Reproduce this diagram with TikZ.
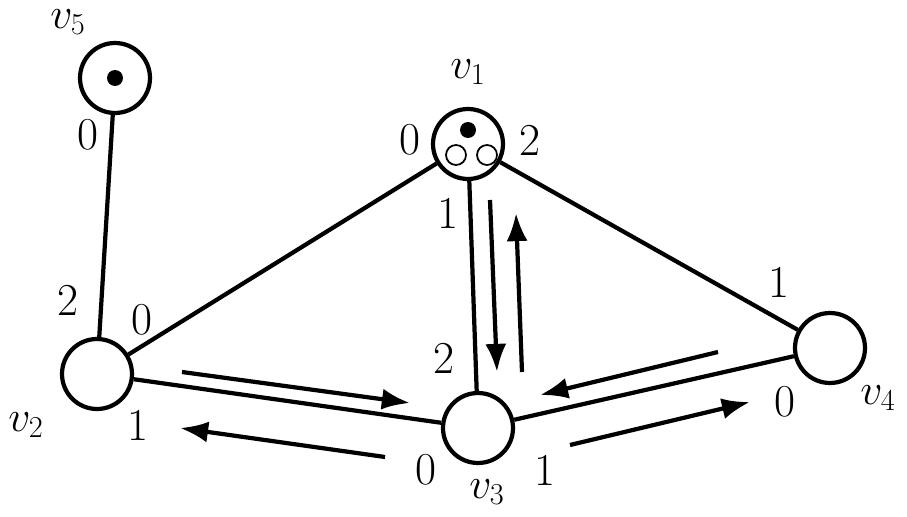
\documentclass[tikz,border=0pt]{standalone}
\usetikzlibrary{arrows.meta}
\begin{document}
\begin{tikzpicture}[x=0.02cm,y=-0.02cm,
  vert/.style={circle,draw,line width=2.4pt,minimum size=1.4cm,inner sep=0pt},
  edge/.style={line width=2.4pt},
  arr/.style={line width=2.4pt,-{Latex[length=16pt,width=12pt]}},
  lab/.style={font=\fontsize{26}{30}\selectfont,inner sep=0pt}]
\useasboundingbox (0,0) rectangle (907,517);
\node[vert] (v5) at (115,78) {};
\node[vert] (v1) at (468,144) {};
\node[vert] (v2) at (97,374) {};
\node[vert] (v3) at (478,428) {};
\node[vert] (v4) at (830,348) {};
\fill (115,78) circle (8);
\fill (468,130) circle (8);
\draw[line width=1pt] (456,155) circle (10) (487,155) circle (10);
\draw[edge] (v5) -- (v2);
\draw[edge] (v1) -- (v2);
\draw[edge] (v1) -- (v3);
\draw[edge] (v1) -- (v4);
\draw[edge] (v2) -- (v3);
\draw[edge] (v3) -- (v4);
\coordinate (a1) at (182,372); \coordinate (b1) at (410,403);
\coordinate (a2) at (385,457); \coordinate (b2) at (180,428);
\coordinate (a3) at (490,200); \coordinate (b3) at (497,372);
\coordinate (a4) at (522,372); \coordinate (b4) at (516,213);
\coordinate (a5) at (718,352); \coordinate (b5) at (540,395);
\coordinate (a6) at (570,445); \coordinate (b6) at (750,402);
\foreach \i in {1,...,6} \draw[arr] (a\i) -- (b\i);
\node[lab] (l1) at (68,22) {$v_5$};
\node[lab] (l2) at (88,135) {0};
\node[lab] (l3) at (468,72) {$v_1$};
\node[lab] (l4) at (410,140) {0};
\node[lab] (l5) at (530,140) {2};
\node[lab] (l6) at (448,213) {1};
\node[lab] (l7) at (68,300) {2};
\node[lab] (l8) at (142,320) {0};
\node[lab] (l9) at (26,425) {$v_2$};
\node[lab] (l10) at (138,425) {1};
\node[lab] (l11) at (444,358) {2};
\node[lab] (l12) at (426,470) {0};
\node[lab] (l13) at (487,492) {$v_3$};
\node[lab] (l14) at (545,470) {1};
\node[lab] (l15) at (785,402) {0};
\node[lab] (l16) at (779,282) {1};
\node[lab] (l17) at (878,398) {$v_4$};
\end{tikzpicture}
\end{document}
